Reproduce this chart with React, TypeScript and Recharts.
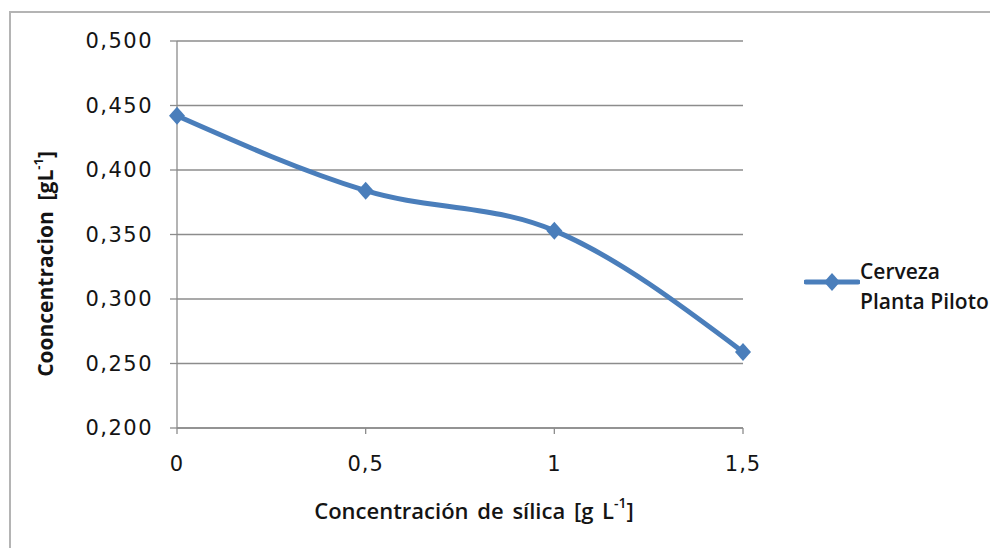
import React from "react"
import { LineChart, Line, XAxis, YAxis, CartesianGrid, Label } from "recharts"

const silica = [0, 0.5, 1, 1.5]
const concentration = [0.442, 0.384, 0.353, 0.259]
const yTicks = [0.2, 0.25, 0.3, 0.35, 0.4, 0.45, 0.5]
const xTicks = [0, 0.5, 1, 1.5]
const seriesName = ["Cerveza", "Planta Piloto"]

const data = silica.map((x, i) => ({ x, y: concentration[i] }))

const BLUE = "#4a7ebb"
const GRID = "#8c8c8c"
const TEXT = "#141414"
const TICK_FONT = "'DejaVu Sans', sans-serif"
const TITLE_FONT = "'Open Sans', sans-serif"

const comma = (v: number, digits: number) => v.toFixed(digits).replace(".", ",")

function Diamond(props: any) {
  const { cx, cy, index } = props
  if (cx == null || cy == null) return null
  return (
    <polygon
      key={`d-${index}`}
      points={`${cx},${cy - 9} ${cx + 8},${cy} ${cx},${cy + 9} ${cx - 8},${cy}`}
      fill={BLUE}
    />
  )
}

function XTitle(props: any) {
  const { viewBox } = props
  const x = viewBox.x + viewBox.width / 2 + 14
  const y = viewBox.y + 82
  return (
    <text
      x={x}
      y={y}
      textAnchor="middle"
      dominantBaseline="central"
      fontFamily={TITLE_FONT}
      fontSize={22}
      fontWeight={600}
      wordSpacing={3}
      fill={TEXT}
    >
      Concentración de sílica [g L
      <tspan dy={-8} fontSize={14}>-1</tspan>
      <tspan dy={8}>]</tspan>
    </text>
  )
}

function YTitle(props: any) {
  const { viewBox } = props
  const x = viewBox.x - 32
  const y = 264
  return (
    <text
      x={x}
      y={y}
      transform={`rotate(-90, ${x}, ${y})`}
      textAnchor="middle"
      dominantBaseline="central"
      fontFamily={TITLE_FONT}
      fontSize={21}
      fontWeight={700}
      fill={TEXT}
    >
      {"Cooncentracion\u00a0\u00a0[gL"}
      <tspan dy={-7} fontSize={13}>-1</tspan>
      <tspan dy={7}>]</tspan>
    </text>
  )
}

export default function App() {
  return (
    <div style={{ position: "fixed", left: 0, top: 0, width: 990, height: 548, overflow: "hidden", background: "#fff" }}>
      <div
        style={{
          position: "absolute",
          left: 9,
          top: 11,
          width: 1100,
          height: 700,
          border: "2px solid #b4b4b4",
          boxSizing: "border-box",
        }}
      />
      <div style={{ position: "absolute", left: 0, top: 0 }}>
        <LineChart width={990} height={548} data={data} margin={{ top: 41, right: 247, left: 77, bottom: 20 }}>
          <CartesianGrid vertical={false} stroke={GRID} strokeWidth={1.3} />
          <XAxis
            dataKey="x"
            type="number"
            domain={[0, 1.5]}
            ticks={xTicks}
            height={100}
            stroke={GRID}
            strokeWidth={1.3}
            tickSize={6}
            tickMargin={22}
            tick={{ fill: TEXT, fontSize: 21, fontFamily: TICK_FONT, letterSpacing: 1 }}
            tickFormatter={(v: number) => (Number.isInteger(v) ? String(v) : comma(v, 1))}
          >
            <Label content={XTitle} />
          </XAxis>
          <YAxis
            type="number"
            domain={[0.2, 0.5]}
            ticks={yTicks}
            width={100}
            stroke={GRID}
            strokeWidth={1.3}
            tickSize={7}
            tickMargin={17}
            tick={{ fill: TEXT, fontSize: 21, fontFamily: TICK_FONT, letterSpacing: 1.5 }}
            tickFormatter={(v: number) => comma(v, 3)}
          >
            <Label content={YTitle} />
          </YAxis>
          <Line
            dataKey="y"
            type="monotone"
            stroke={BLUE}
            strokeWidth={5}
            dot={Diamond}
            activeDot={false}
            isAnimationActive={false}
          />
        </LineChart>
      </div>
      <div style={{ position: "absolute", left: 804, top: 256, display: "flex", alignItems: "flex-start" }}>
        <svg width={56} height={52} style={{ display: "block" }}>
          <line x1={2} y1={26} x2={54} y2={26} stroke={BLUE} strokeWidth={5} strokeLinecap="round" />
          <polygon points="28,17 36,26 28,35 20,26" fill={BLUE} />
        </svg>
        <div style={{ fontFamily: TITLE_FONT, fontSize: 21, fontWeight: 600, color: TEXT, lineHeight: "30px", whiteSpace: "nowrap" }}>
          {seriesName.map((s) => (
            <div key={s}>{s}</div>
          ))}
        </div>
      </div>
    </div>
  )
}
